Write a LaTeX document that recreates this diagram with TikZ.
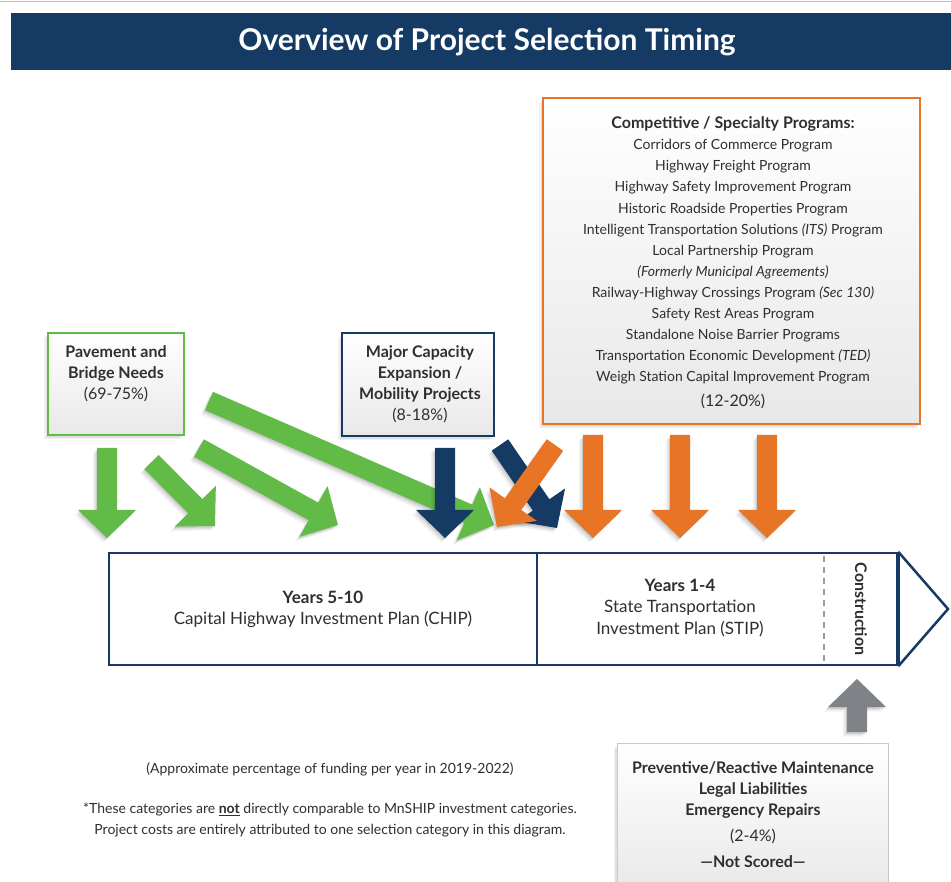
\documentclass[tikz,border=0pt]{standalone}
\usepackage{fontspec}
\setmainfont{Lato}
\usetikzlibrary{calc}
\definecolor{navy}{HTML}{153A63}
\definecolor{grn}{HTML}{63BB47}
\definecolor{orng}{HTML}{E87425}
\definecolor{arrgray}{HTML}{7F8286}
\definecolor{txt}{HTML}{2E2E33}
\definecolor{dashgray}{HTML}{9B9B9B}
\definecolor{boxline}{HTML}{C9C9CB}
\newcommand{\fsz}[2]{\fontsize{#1}{#2}\selectfont}
\tikzset{
  softshadow/.style={
    preaction={fill=black,opacity=0.10,transform canvas={xshift=-1pt,yshift=-1.5pt}},
    preaction={fill=black,opacity=0.07,transform canvas={xshift=-2.5pt,yshift=-3pt}},
    preaction={fill=black,opacity=0.05,transform canvas={xshift=-4pt,yshift=-4.5pt}}},
  infobox/.style={rectangle, inner sep=0pt, line width=2.5pt, top color=white, bottom color=black!9, softshadow},
  tlbox/.style={rectangle, inner sep=0pt, draw=navy, line width=2.5pt, fill=white, minimum height=112pt},
  txtnode/.style={align=center, text=txt, inner sep=0pt},
}
% block arrow: colour, start, tip
\newcommand{\blockarrow}[3]{%
  \coordinate (ba-s) at (#2);
  \coordinate (ba-t) at (#3);
  \coordinate (ba-b) at ($(ba-t)!28pt!(ba-s)$);
  \fill[#1, softshadow] ($(ba-s)!10pt!90:(ba-t)$) -- ($(ba-b)!10pt!90:(ba-t)$)
     -- ($(ba-b)!29pt!90:(ba-t)$) -- (ba-t) -- ($(ba-b)!29pt!-90:(ba-t)$)
     -- ($(ba-b)!10pt!-90:(ba-t)$) -- ($(ba-s)!10pt!-90:(ba-t)$) -- cycle;
}
\begin{document}
\begin{tikzpicture}[x=1pt,y=-1pt]
\useasboundingbox (0,0) rectangle (951,882);
\fill[white] (0,0) rectangle (951,882);
\draw[black!25, line width=1pt] (0,1.5) -- (951,1.5);

% title
\node[fill=navy, inner sep=0pt, minimum width=940pt, minimum height=57pt, anchor=north west] (titlebar) at (11,13) {};
\node[text=white, font=\bfseries\fsz{30}{33}, inner sep=0pt] (title) at (487,42) {Overview of Project Selection Timing};

% boxes
\node[infobox, draw=grn, minimum width=136pt, minimum height=102pt] (pavebox) at (116,384) {};
\node[txtnode, font=\bfseries\fsz{16}{21}] (pavetxt) at (116,374) {Pavement and\\Bridge Needs\\{\mdseries (69-75\%)}};

\node[infobox, draw=navy, minimum width=152pt, minimum height=103pt] (majbox) at (418,384.5) {};
\node[txtnode, font=\bfseries\fsz{16}{21}] (majtxt) at (420,384) {Major Capacity\\Expansion /\\Mobility Projects\\{\mdseries (8-18\%)}};

\node[infobox, draw=orng, minimum width=377pt, minimum height=326pt] (compbox) at (731.5,261) {};
\node[txtnode, font=\fsz{14}{21.1}] (comptxt) at (733,263) {{\bfseries\fsz{16}{21.1}Competitive / Specialty Programs:}\\
Corridors of Commerce Program\\
Highway Freight Program\\
Highway Safety Improvement Program\\
Historic Roadside Properties Program\\
Intelligent Transportation Solutions \textit{(ITS)} Program\\
Local Partnership Program\\
\textit{(Formerly Municipal Agreements)}\\
Railway-Highway Crossings Program \textit{(Sec 130)}\\
Safety Rest Areas Program\\
Standalone Noise Barrier Programs\\
Transportation Economic Development \textit{(TED)}\\
Weigh Station Capital Improvement Program\\[4pt]
{\fsz{16}{21.1}(12-20\%)}};

% arrows
\blockarrow{grn}{107,448}{107,538}
\blockarrow{grn}{151.5,462}{215,526}
\blockarrow{grn}{199,448}{338,525}
\blockarrow{grn}{209,401}{494,525}
\blockarrow{navy}{445,448}{445,538}
\blockarrow{navy}{500,445}{557,528}
\blockarrow{orng}{555,445}{497,527}
\blockarrow{orng}{593,435}{593,538}
\blockarrow{orng}{680,435}{680,538}
\blockarrow{orng}{767,435}{767,538}

% timeline
\node[tlbox, minimum width=428pt] (chip) at (323,609) {};
\node[tlbox, minimum width=360pt] (stip) at (717,609) {};
\coordinate (tltip) at (948,609);
\draw[navy, line width=2.5pt, line join=miter, fill=white] (stip.north east) -- (tltip) -- (stip.south east);
\draw[navy, line width=4pt] (stip.north east) -- (stip.south east);
\coordinate (dtop) at (824,556);
\coordinate (dbot) at (824,662);
\draw[dashgray, line width=1.5pt, dash pattern=on 6pt off 5pt] (dtop) -- (dbot);
\node[txtnode, font=\fsz{17}{21}] (chiptxt) at (323,609) {\textbf{Years 5-10}\\Capital Highway Investment Plan (CHIP)};
\node[txtnode, font=\fsz{17}{21.5}] (stiptxt) at (680,608) {\textbf{Years 1-4}\\State Transportation\\Investment Plan (STIP)};
\node[txtnode, font=\bfseries\fsz{16}{18}, rotate=-90] (constr) at (861,609) {Construction};

% maintenance
\blockarrow{arrgray}{857,732}{857,679}
\node[infobox, draw=boxline, line width=1pt, minimum width=271pt, minimum height=150pt, anchor=north west] (maintbox) at (617,743) {};
\node[txtnode, font=\bfseries\fsz{16}{21}] (mainttxt) at (753,815) {Preventive/Reactive Maintenance\\Legal Liabilities\\Emergency Repairs\\[5pt]{\mdseries (2-4\%)}\\[5pt]---Not Scored---};

% notes
\node[txtnode, font=\fsz{14}{21}] (note1) at (330,769) {(Approximate percentage of funding per year in 2019-2022)};
\node[txtnode, font=\fsz{14}{21}] (note2) at (330,820) {*These categories are \textbf{\underline{not}} directly comparable to MnSHIP investment categories.\\Project costs are entirely attributed to one selection category in this diagram.};
\end{tikzpicture}
\end{document}
